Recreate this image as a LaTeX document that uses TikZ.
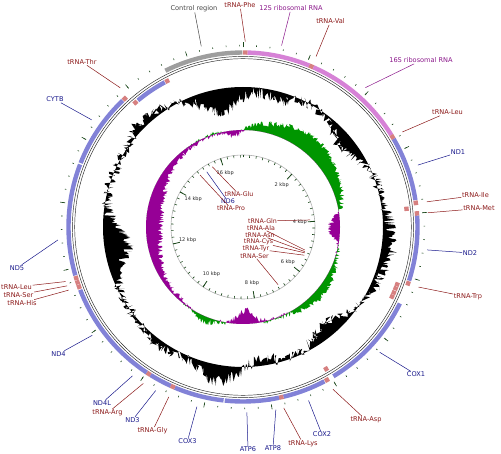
\documentclass[tikz,border=0pt]{standalone}
\usepackage{fontspec}
\setmainfont{DejaVu Sans}
\usetikzlibrary{calc}
\definecolor{GeneBlue}{RGB}{130,130,215}
\definecolor{RrnaPink}{RGB}{214,130,214}
\definecolor{TrnaSalmon}{RGB}{214,128,128}
\definecolor{CtrlGray}{RGB}{158,158,158}
\definecolor{LblBlue}{RGB}{25,25,140}
\definecolor{LblRed}{RGB}{140,25,25}
\definecolor{LblPurple}{RGB}{140,25,140}
\definecolor{LblGray}{RGB}{70,70,70}
\definecolor{SkewGreen}{RGB}{0,150,0}
\definecolor{SkewPurple}{RGB}{150,0,150}
\definecolor{TickGreen}{RGB}{25,70,25}

% one feature on a ring: colour, radius, start, end (degrees clockwise from top)
\newcommand{\feat}[4]{\draw[#1, line width=4.4pt] (90-#3:#2) arc[start angle=90-#3, end angle=90-#4, radius=#2];}
\def\Ro{174.5}
\def\Ri{164.5}
\def\degkb{21.365}

\begin{document}
\begin{tikzpicture}[x=1pt, y=1pt,
    lbl/.style={font=\fontsize{6.6}{7.5}\selectfont, inner sep=0.6pt},
    trna/.style={lbl, text=LblRed},
    gene/.style={lbl, text=LblBlue},
    rrna/.style={lbl, text=LblPurple},
    ctrl/.style={lbl, text=LblGray},
    inlbl/.style={font=\fontsize{6.3}{7}\selectfont, inner sep=0.2pt},
    intrna/.style={inlbl, text=LblRed},
    ingene/.style={inlbl, text=LblBlue},
    trnaline/.style={LblRed, line width=0.5pt},
    geneline/.style={LblBlue, line width=0.5pt},
    rrnaline/.style={LblPurple, line width=0.5pt},
    ctrlline/.style={LblGray, line width=0.5pt},
    kbp/.style={font=\fontsize{5}{6}\selectfont, text=black!85, inner sep=0pt},
    tickmark/.style={TickGreen, line width=0.6pt},
    declare function={
      gcv(\t)=-24*exp(60*(cos(\t-350)-1)) -8*exp(100*(cos(\t-15)-1))
        -14*exp(60*(cos(\t-50)-1)) +10*exp(20*(cos(\t-100)-1))
        -14*exp(60*(cos(\t-140)-1)) -8*exp(150*(cos(\t-172)-1))
        +16*exp(80*(cos(\t-190)-1))
        +6*exp(60*(cos(\t-215)-1)) -24*exp(50*(cos(\t-262)-1))
        +8*exp(60*(cos(\t-318)-1)) +6*rand;
      skw(\t)=17*exp(6*(cos(\t-40)-1)) -12*exp(80*(cos(\t-90)-1))
        +8*exp(20*(cos(\t-130)-1)) -14*exp(150*(cos(\t-178)-1))
        +6*exp(150*(cos(\t-203)-1)) -15*exp(5*(cos(\t-275)-1))
        -8*exp(150*(cos(\t-355)-1)) +3*rand;
    }
]
    \fill[white] (0,0) rectangle (501,453);
    \useasboundingbox (0,0) rectangle (501,453);
    \coordinate (O) at (243,226);

    \begin{scope}[shift={(O)}]
    % GC content
    \pgfmathsetseed{5}
    \fill[black, even odd rule] plot[domain=0:360, samples=901] ({90-\x}:{140+gcv(\x)}) -- cycle (0,0) circle[radius=140];
    % GC skew
    \pgfmathsetseed{11}
    \fill[SkewGreen, even odd rule] plot[domain=0:360, samples=721] ({90-\x}:{97+max(skw(\x),0)}) -- cycle (0,0) circle[radius=97];
    \pgfmathsetseed{11}
    \fill[SkewPurple, even odd rule] plot[domain=0:360, samples=721] ({90-\x}:{97+min(skw(\x),0)}) -- cycle (0,0) circle[radius=97];

    % backbone
    \draw[black!85, line width=0.45pt] (0,0) circle[radius=168.3] (0,0) circle[radius=170.6];

    % forward strand
    \feat{CtrlGray}{\Ro}{333.6}{359.8}
    \feat{TrnaSalmon}{\Ro}{0}{1.5}
    \feat{RrnaPink}{\Ro}{1.5}{22.3}
    \feat{TrnaSalmon}{\Ro}{22.3}{23.8}
    \feat{RrnaPink}{\Ro}{23.8}{58.2}
    \feat{TrnaSalmon}{\Ro}{58.2}{59.7}
    \feat{GeneBlue}{\Ro}{59.7}{81.1}
    \feat{TrnaSalmon}{\Ro}{81.3}{82.8}
    \feat{TrnaSalmon}{\Ro}{84.8}{86.3}
    \feat{GeneBlue}{\Ro}{86.3}{107.9}
    \feat{TrnaSalmon}{\Ro}{108.1}{109.6}
    \feat{GeneBlue}{\Ro}{116.0}{148.8}
    \feat{TrnaSalmon}{\Ro}{150.5}{152.0}
    \feat{GeneBlue}{\Ro}{152.2}{166.6}
    \feat{TrnaSalmon}{\Ro}{166.6}{168.1}
    \feat{GeneBlue}{\Ro}{168.1}{171.8}
    \feat{GeneBlue}{\Ro}{171.0}{186.0}
    \feat{GeneBlue}{\Ro}{186.4}{203.0}
    \feat{TrnaSalmon}{\Ro}{203.0}{204.5}
    \feat{GeneBlue}{\Ro}{204.5}{212.0}
    \feat{TrnaSalmon}{\Ro}{212.0}{213.5}
    \feat{GeneBlue}{\Ro}{213.5}{219.9}
    \feat{GeneBlue}{\Ro}{219.6}{248.9}
    \feat{TrnaSalmon}{\Ro}{249.2}{250.7}
    \feat{TrnaSalmon}{\Ro}{250.8}{252.2}
    \feat{TrnaSalmon}{\Ro}{252.3}{253.7}
    \feat{GeneBlue}{\Ro}{253.9}{291.0}
    \feat{GeneBlue}{\Ro}{291.5}{316.4}
    \feat{TrnaSalmon}{\Ro}{316.6}{318.1}
    % reverse strand
    \feat{TrnaSalmon}{\Ri}{82.9}{84.4}
    \feat{TrnaSalmon}{\Ri}{109.7}{111.1}
    \feat{TrnaSalmon}{\Ri}{111.2}{112.6}
    \feat{TrnaSalmon}{\Ri}{112.8}{114.2}
    \feat{TrnaSalmon}{\Ri}{114.3}{115.8}
    \feat{TrnaSalmon}{\Ri}{148.9}{150.4}
    \feat{TrnaSalmon}{\Ri}{318.4}{319.9}
    \feat{GeneBlue}{\Ri}{320.3}{331.6}
    \feat{TrnaSalmon}{\Ri}{331.8}{333.3}

    % outer ticks
    \foreach \i in {0,...,84}
        \draw[tickmark] ({90-\i*0.2*\degkb}:180.6) -- ({90-\i*0.2*\degkb}:182.2);
    \foreach \k in {0,...,16}
        \draw[tickmark] ({90-\k*\degkb}:179.6) -- ({90-\k*\degkb}:184.6);

    % inner ruler
    \draw[black!30, line width=0.6pt] (0,0) circle[radius=72];
    \foreach \i in {0,...,67}
        \draw[tickmark] ({90-\i*0.25*\degkb}:69.5) -- ({90-\i*0.25*\degkb}:72);
    \foreach \k in {2,4,...,16} {
        \draw[tickmark, line width=0.8pt] ({90-\k*\degkb}:65) -- ({90-\k*\degkb}:72);
        \node[kbp] (kb\k) at ({90-\k*\degkb}:57) {\k\ kbp};
    }

    % connector ends on the map
    \coordinate (fCtrl) at (90-347:185.5);
    \coordinate (fPhe) at (90-0.7:185.5);
    \coordinate (f12S) at (90-12:185.5);
    \coordinate (fVal) at (90-23.2:185.5);
    \coordinate (f16S) at (90-41.3:185.5);
    \coordinate (fLeuA) at (90-59.2:185.5);
    \coordinate (fND1) at (90-70.5:185.5);
    \coordinate (fIle) at (90-82.2:185.5);
    \coordinate (fMet) at (90-85.6:185.5);
    \coordinate (fND2) at (90-97.1:185.5);
    \coordinate (fTrp) at (90-108.9:185.5);
    \coordinate (fCOX1) at (90-132.5:185.5);
    \coordinate (fAsp) at (90-151:185.5);
    \coordinate (fCOX2) at (90-159.3:185.5);
    \coordinate (fLys) at (90-167.3:185.5);
    \coordinate (fATP8) at (90-169.8:185.5);
    \coordinate (fATP6) at (90-178.8:185.5);
    \coordinate (fCOX3) at (90-194.4:185.5);
    \coordinate (fGly) at (90-203.6:185.5);
    \coordinate (fND3) at (90-208.1:185.5);
    \coordinate (fArg) at (90-212.5:185.5);
    \coordinate (fND4L) at (90-216.6:185.5);
    \coordinate (fND4) at (90-234.3:185.5);
    \coordinate (fHis) at (90-250.1:185.5);
    \coordinate (fSerB) at (90-251.5:185.5);
    \coordinate (fLeuB) at (90-252.9:185.5);
    \coordinate (fND5) at (90-266:185.5);
    \coordinate (fCYTB) at (90-305.3:185.5);
    \coordinate (fThr) at (90-318.6:185.5);
    \coordinate (fGln) at (90-84:67.4);
    \coordinate (fAla) at (90-110.4:66);
    \coordinate (fAsn) at (90-111.7:66.5);
    \coordinate (fCys) at (90-112.7:67);
    \coordinate (fTyr) at (90-114.7:67.5);
    \coordinate (fSerA) at (90-148.7:67.5);
    \coordinate (fPro) at (90-320.4:67.5);
    \coordinate (fND6) at (90-326.7:66);
    \coordinate (fGlu) at (90-333:67.5);
    \end{scope}

    % outer labels
    \node[ctrl] (lCtrl) at (194,444.5) {Control region};
    \node[trna] (lPhe) at (240,447.5) {tRNA-Phe};
    \node[rrna] (l12S) at (291,444.5) {12S ribosomal RNA};
    \node[trna] (lVal) at (330.5,431.5) {tRNA-Val};
    \node[rrna] (l16S) at (421,392.5) {16S ribosomal RNA};
    \node[trna] (lLeuA) at (447.5,340.5) {tRNA-Leu};
    \node[gene] (lND1) at (458,300.5) {ND1};
    \node[trna] (lIle) at (475.5,257.5) {tRNA-Ile};
    \node[trna] (lMet) at (479,244.5) {tRNA-Met};
    \node[gene] (lND2) at (470,200) {ND2};
    \node[trna] (lTrp) at (468,156) {tRNA-Trp};
    \node[gene] (lCOX1) at (416,78.5) {COX1};
    \node[trna] (lAsp) at (366,33) {tRNA-Asp};
    \node[gene] (lCOX2) at (322,18.5) {COX2};
    \node[trna] (lLys) at (303,9.5) {tRNA-Lys};
    \node[gene] (lATP8) at (273,5) {ATP8};
    \node[gene] (lATP6) at (248,3.5) {ATP6};
    \node[gene] (lCOX3) at (187.5,12) {COX3};
    \node[trna] (lGly) at (152.5,22) {tRNA-Gly};
    \node[gene] (lND3) at (132.5,33) {ND3};
    \node[trna] (lArg) at (107.5,40) {tRNA-Arg};
    \node[gene] (lND4L) at (102,50) {ND4L};
    \node[gene] (lND4) at (58.5,99) {ND4};
    \node[trna] (lLeuB) at (16.5,166) {tRNA-Leu};
    \node[trna] (lSerB) at (18.5,158) {tRNA-Ser};
    \node[trna] (lHis) at (22,150) {tRNA-His};
    \node[gene] (lND5) at (17,185) {ND5};
    \node[gene] (lCYTB) at (55,353.5) {CYTB};
    \node[trna] (lThr) at (82,391) {tRNA-Thr};

    % inner labels
    \node[intrna] (lGlu) at (239,258.5) {tRNA-Glu};
    \node[ingene] (lND6) at (228,251.5) {ND6};
    \node[intrna] (lPro) at (231,244.5) {tRNA-Pro};
    \node[intrna] (lGln) at (262.5,232) {tRNA-Gln};
    \node[intrna] (lAla) at (261,225) {tRNA-Ala};
    \node[intrna] (lAsn) at (260,218) {tRNA-Asn};
    \node[intrna] (lCys) at (258.5,211) {tRNA-Cys};
    \node[intrna] (lTyr) at (256,204) {tRNA-Tyr};
    \node[intrna] (lSerA) at (254.5,197) {tRNA-Ser};

    % connectors
    \draw[ctrlline] (lCtrl) -- (fCtrl);
    \draw[trnaline] (lPhe) -- (fPhe);
    \draw[rrnaline] (l12S) -- (f12S);
    \draw[trnaline] (lVal) -- (fVal);
    \draw[rrnaline] (l16S) -- (f16S);
    \draw[trnaline] (lLeuA) -- (fLeuA);
    \draw[geneline] (lND1) -- (fND1);
    \draw[trnaline] (lIle) -- (fIle);
    \draw[trnaline] (lMet) -- (fMet);
    \draw[geneline] (lND2) -- (fND2);
    \draw[trnaline] (lTrp) -- (fTrp);
    \draw[geneline] (lCOX1) -- (fCOX1);
    \draw[trnaline] (lAsp) -- (fAsp);
    \draw[geneline] (lCOX2) -- (fCOX2);
    \draw[trnaline] (lLys) -- (fLys);
    \draw[geneline] (lATP8) -- (fATP8);
    \draw[geneline] (lATP6) -- (fATP6);
    \draw[geneline] (lCOX3) -- (fCOX3);
    \draw[trnaline] (lGly) -- (fGly);
    \draw[geneline] (lND3) -- (fND3);
    \draw[trnaline] (lArg) -- (fArg);
    \draw[geneline] (lND4L) -- (fND4L);
    \draw[geneline] (lND4) -- (fND4);
    \draw[trnaline] (lLeuB) -- (fLeuB);
    \draw[trnaline] (lSerB) -- (fSerB);
    \draw[trnaline] (lHis) -- (fHis);
    \draw[geneline] (lND5) -- (fND5);
    \draw[geneline] (lCYTB) -- (fCYTB);
    \draw[trnaline] (lThr) -- (fThr);
    \draw[trnaline] (lGlu) -- (fGlu);
    \draw[geneline] (lND6) -- (fND6);
    \draw[trnaline] (lPro) -- (fPro);
    \draw[trnaline] (lGln) -- (fGln);
    \draw[trnaline] (lAla) -- (fAla);
    \draw[trnaline] (lAsn) -- (fAsn);
    \draw[trnaline] (lCys) -- (fCys);
    \draw[trnaline] (lTyr) -- (fTyr);
    \draw[trnaline] (lSerA) -- (fSerA);
\end{tikzpicture}
\end{document}
